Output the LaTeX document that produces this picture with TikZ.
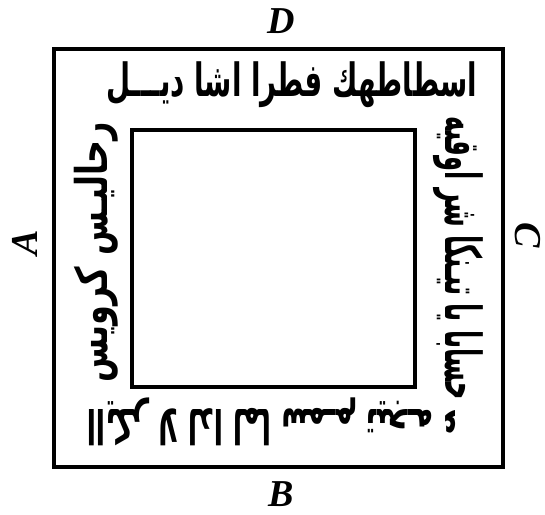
\documentclass[tikz,border=0pt]{standalone}
\usepackage{fontspec}
\usepackage{graphicx}
\setmainfont{Liberation Serif}
\newfontfamily\arabicfont[Script=Arabic]{DejaVu Sans}
\TeXXeTstate=1
\tikzset{
  frame/.style={draw=black, line width=3.2pt, inner sep=0pt},
  letter/.style={font=\fontsize{38}{38}\selectfont\bfseries\itshape, inner sep=0pt},
  script/.style={inner sep=0pt}
}
\begin{document}
\begin{tikzpicture}[x=1pt,y=-1pt]
\useasboundingbox (0,0) rectangle (545,514);
\node[frame, minimum width=449pt, minimum height=418pt] (outer) at (278.5,258) {};
\node[frame, minimum width=283pt, minimum height=257pt] (inner) at (273.5,258.5) {};
\node[letter] (D) at (281,21) {D};
\node[letter] (B) at (281,494) {B};
\node[letter, rotate=90] (A) at (25,243) {A};
\node[letter, rotate=-90] (C) at (528,235) {C};
\node[script] (top) at (292,85) {\resizebox*{370pt}{46pt}{\arabicfont\bfseries\beginR اسطاطهك فطرا اشا ديـــل\endR}};
\node[script, rotate=90] (left) at (96,252) {\resizebox*{260pt}{44pt}{\arabicfont\bfseries\beginR رحاليـس كرويس\endR}};
\node[script, rotate=-90] (right) at (458,258) {\resizebox*{283pt}{50pt}{\arabicfont\bfseries\beginR حسابا يا تيـنكا شر اوقيه\endR}};
\node[script, rotate=180] (bottom) at (272,422) {\resizebox*{370pt}{48pt}{\arabicfont\bfseries\beginR اايكر لا لدا لما سمـم تيجـه ء\endR}};
\end{tikzpicture}
\end{document}
